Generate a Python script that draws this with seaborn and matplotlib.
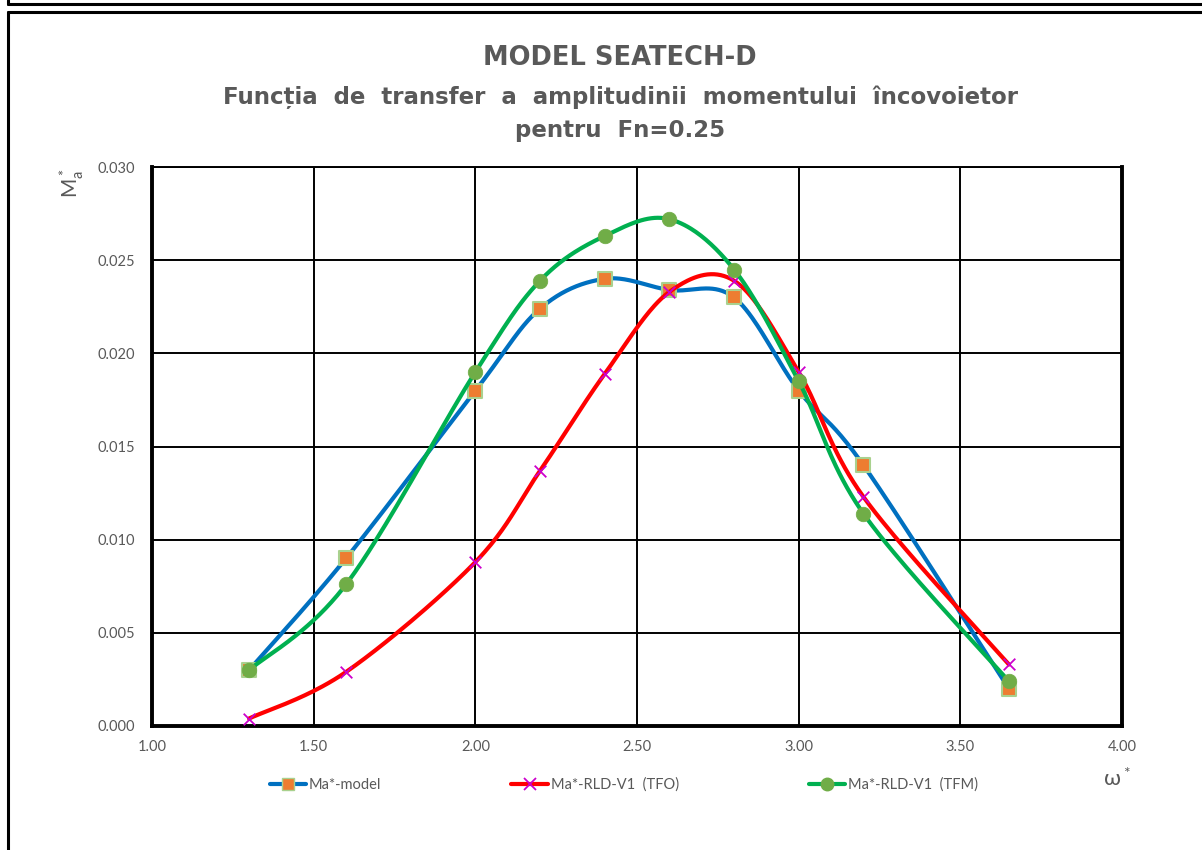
import numpy as np
import matplotlib
matplotlib.use("Agg")
import matplotlib.pyplot as plt
from matplotlib.lines import Line2D
import seaborn as sns

# valori
omega = [1.30, 1.60, 2.00, 2.20, 2.40, 2.60, 2.80, 3.00, 3.20, 3.65]
ma_model = [0.0030, 0.0090, 0.0180, 0.0224, 0.0240, 0.0234, 0.0230, 0.0180, 0.0140, 0.0020]
ma_tfo = [0.0004, 0.0029, 0.0088, 0.0137, 0.0189, 0.0233, 0.0239, 0.0190, 0.0123, 0.0033]
ma_tfm = [0.0030, 0.0076, 0.0190, 0.0239, 0.0263, 0.0272, 0.0245, 0.0185, 0.0114, 0.0024]

etichete = ["Ma*-model", "Ma*-RLD-V1  (TFO)", "Ma*-RLD-V1  (TFM)"]
x_ticks = [1.00, 1.50, 2.00, 2.50, 3.00, 3.50, 4.00]
y_ticks = [0.000, 0.005, 0.010, 0.015, 0.020, 0.025, 0.030]

GRI = "#595959"


def netezire(x, y, n=40):
    """Curba netezita ca in Excel (segmente Bezier de tip Catmull-Rom)"""
    p = np.column_stack([x, y]).astype(float)
    p = np.vstack([p[0], p, p[-1]])
    xs, ys = [], []
    t = np.linspace(0, 1, n)
    for i in range(1, len(p) - 2):
        p0, p1, p2, p3 = p[i - 1], p[i], p[i + 1], p[i + 2]
        c1 = p1 + (p2 - p0) / 6
        c2 = p2 - (p3 - p1) / 6
        b = ((1 - t) ** 3)[:, None] * p1 + (3 * (1 - t) ** 2 * t)[:, None] * c1 \
            + (3 * (1 - t) * t ** 2)[:, None] * c2 + (t ** 3)[:, None] * p2
        xs.extend(b[:, 0])
        ys.extend(b[:, 1])
    return np.array(xs), np.array(ys)


sns.set_theme(style="white")
plt.rcParams['font.family'] = ['Lato', 'DejaVu Sans']

fig = plt.figure(figsize=(12.02, 8.5), dpi=100)
ax = fig.add_axes([0.1265, 0.1459, 0.8070, 0.6576])

serii = [
    (ma_model, "#0070C0", dict(marker="s", s=95, color="#ED7D31", edgecolor="#A9D18E", linewidth=1.5)),
    (ma_tfo, "#FF0000", dict(marker="x", s=70, color="#CC00CC", linewidth=1.3)),
    (ma_tfm, "#00B050", dict(marker="o", s=110, color="#70AD47", edgecolor="#70AD47", linewidth=0.5)),
]

for z, (vals, culoare, stil) in enumerate(serii):
    xs, ys = netezire(omega, vals)
    sns.lineplot(x=xs, y=ys, sort=False, estimator=None, color=culoare,
                 linewidth=3, ax=ax, zorder=3 + 2 * z)
    sns.scatterplot(x=omega, y=vals, ax=ax, zorder=4 + 2 * z, **stil)

ax.set_xlim(1.0, 4.0)
ax.set_ylim(0.0, 0.030)
ax.set_xticks(x_ticks)
ax.set_yticks(y_ticks)
ax.set_xticklabels([f"{v:.2f}" for v in x_ticks])
ax.set_yticklabels([f"{v:.3f}" for v in y_ticks])
ax.tick_params(axis="both", colors=GRI, labelsize=10.5, length=0)
ax.tick_params(axis="x", pad=10)
ax.tick_params(axis="y", pad=12)
ax.grid(True, color="black", linewidth=1.4)
ax.set_axisbelow(True)
ax.spines["top"].set_linewidth(1.4)
for s in ["left", "bottom", "right"]:
    ax.spines[s].set_linewidth(2.8)
for s in ax.spines.values():
    s.set_color("black")

# etichete axe
fig.text(0.060, 0.784, r"$\mathregular{M_a^*}$", rotation=90, color=GRI,
         fontsize=15, ha="center", va="center")
fig.text(0.929, 0.084, r"$\mathregular{\omega^*}$", color=GRI,
         fontsize=16, ha="center", va="center")

# titlu
fig.text(0.516, 0.932, "MODEL SEATECH-D", ha="center", va="center",
         fontsize=18.5, fontweight="bold", color=GRI, family="DejaVu Sans")
fig.text(0.516, 0.886, "Funcția  de  transfer  a  amplitudinii  momentului  încovoietor",
         ha="center", va="center", fontsize=16.5, fontweight="bold", color=GRI,
         family="DejaVu Sans")
fig.text(0.516, 0.847, "pentru  Fn=0.25", ha="center", va="center",
         fontsize=16.5, fontweight="bold", color=GRI, family="DejaVu Sans")

# legenda
manere = [
    Line2D([], [], color="#0070C0", lw=3, marker="s", markersize=9,
           markerfacecolor="#ED7D31", markeredgecolor="#A9D18E"),
    Line2D([], [], color="#FF0000", lw=3, marker="x", markersize=8,
           markeredgecolor="#CC00CC", markeredgewidth=1.3),
    Line2D([], [], color="#00B050", lw=3, marker="o", markersize=9,
           markerfacecolor="#70AD47", markeredgecolor="#70AD47"),
]
fig.legend(manere, etichete, loc="center", bbox_to_anchor=(0.519, 0.077), ncol=3,
           frameon=False, fontsize=10.5, labelcolor=GRI, handlelength=2.5,
           handletextpad=0.2, columnspacing=8.9)

# chenar exterior
fig.add_artist(Line2D([8 / 1202, 1], [1 - 4 / 850, 1 - 4 / 850], color="black", lw=2.2,
                      transform=fig.transFigure))
fig.add_artist(Line2D([8 / 1202, 8 / 1202], [1, 1 - 4 / 850], color="black", lw=2.2,
                      transform=fig.transFigure))
fig.add_artist(Line2D([8 / 1202, 1], [1 - 12 / 850, 1 - 12 / 850], color="black", lw=2.2,
                      transform=fig.transFigure))
fig.add_artist(Line2D([8 / 1202, 8 / 1202], [0, 1 - 12 / 850], color="black", lw=2.2,
                      transform=fig.transFigure))

fig.savefig("out.png", dpi=100)
